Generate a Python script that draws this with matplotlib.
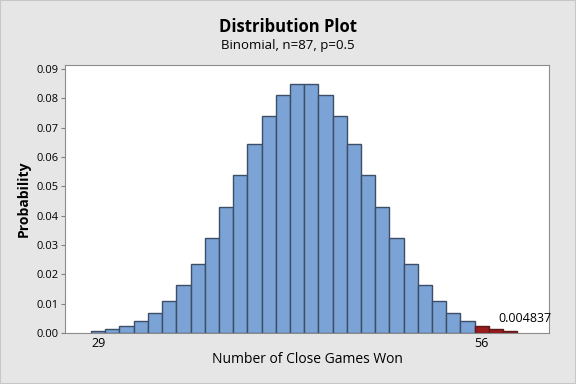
import matplotlib.pyplot as plt
import numpy as np

# Binomial n=87, p=0.5 probabilities (k = 29..58)
games = np.arange(29, 59)
prob = [0.000655, 0.001267, 0.002330, 0.004077, 0.006795, 0.010793,
        0.016343, 0.023607, 0.032539, 0.042815, 0.053793, 0.064551,
        0.073998, 0.081045, 0.084814, 0.084814, 0.081045, 0.073998,
        0.064551, 0.053793, 0.042815, 0.032539, 0.023607, 0.016343,
        0.010793, 0.006795, 0.004077, 0.002330, 0.001267, 0.000655]
cutoff = 56
tail_label = '0.004837'
xticks = [29, 56]

plt.rcParams['font.family'] = ['Open Sans', 'DejaVu Sans']

fig = plt.figure(figsize=(5.76, 3.84), dpi=100, facecolor='#e6e6e6')
fig.patches.append(plt.Rectangle((0, 0), 1, 1, transform=fig.transFigure,
                                 fill=False, edgecolor='#c8c8c8', lw=1.5))
ax = fig.add_axes([0.1137, 0.1328, 0.8386, 0.6979])

games = np.asarray(games)
prob = np.asarray(prob)
body = games < cutoff
ax.bar(games[body], prob[body], width=1.0, color='#7ba3d6',
       edgecolor='#3d4e66', linewidth=1.0)
ax.bar(games[~body], prob[~body], width=1.0, color='#991b1b',
       edgecolor='#5c1a1a', linewidth=1.0)

ax.text(cutoff + 1.2, prob[games == cutoff][0] + 0.0005, tail_label,
        fontsize=9, ha='left', va='bottom')

ax.set_xlim(26.7, 60.7)
ax.set_ylim(0, 0.0914)
ax.set_xticks(xticks)
ax.set_yticks(np.arange(0, 0.091, 0.01))
ax.set_yticklabels([f'{v:.2f}' for v in np.arange(0, 0.091, 0.01)])
ax.tick_params(axis='x', length=0, labelsize=9, pad=3)
ax.tick_params(axis='y', length=3, labelsize=8, color='#808080', pad=2)
for s in ax.spines.values():
    s.set_color('#8c8c8c')

ax.set_xlabel('Number of Close Games Won', fontsize=10, labelpad=1)
ax.set_ylabel('Probability', fontsize=10, fontweight='bold', labelpad=4)
fig.text(0.5, 0.93, 'Distribution Plot', ha='center', va='center',
         fontsize=12, fontweight='bold')
fig.text(0.5, 0.882, 'Binomial, n=87, p=0.5', ha='center', va='center',
         fontsize=9.5)

fig.savefig('out.png', dpi=100, facecolor=fig.get_facecolor())
